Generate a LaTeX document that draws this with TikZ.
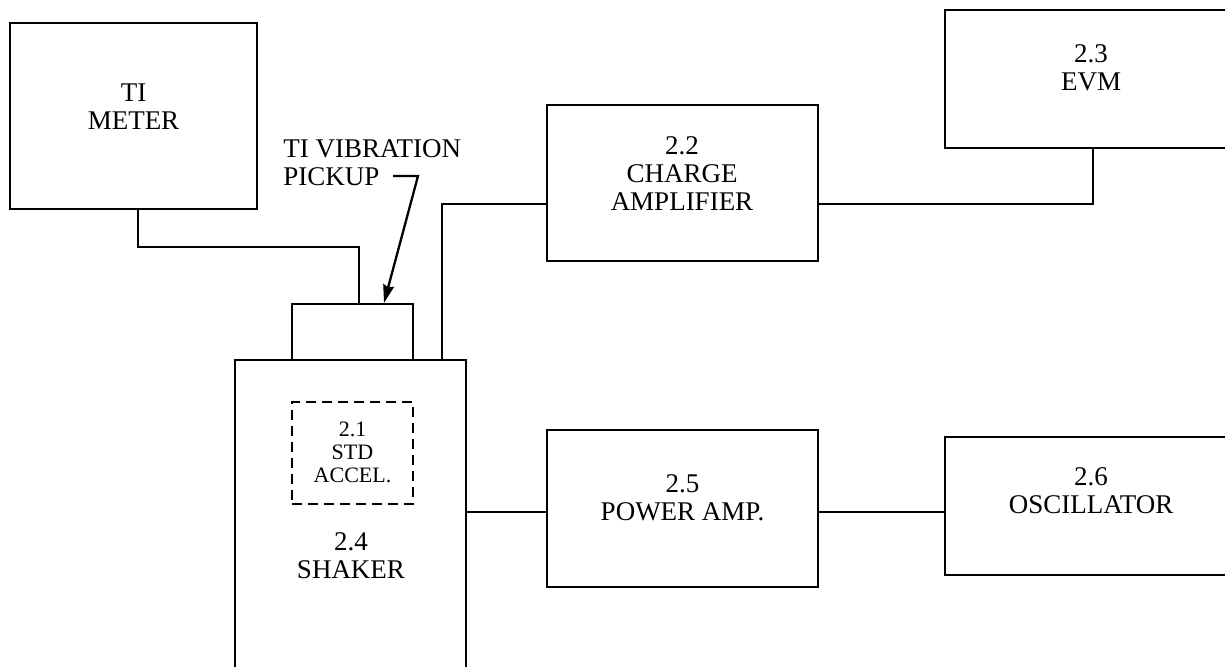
\documentclass[tikz,border=0pt]{standalone}
\usepackage{fontspec}
\setmainfont{Liberation Serif}
\usetikzlibrary{arrows.meta,positioning,calc}
\tikzset{
  tbBox/.style={draw=black, line width=1.15pt, inner sep=0pt},
  tbDash/.style={draw=black, line width=1.15pt, dash pattern=on 5pt off 3pt,
                 inner sep=0pt},
  tbText/.style={align=center, inner sep=0pt,
                 font=\fontsize{13.5}{14}\selectfont},
  tbSmall/.style={align=center, inner sep=0pt,
                  font=\fontsize{11}{11.5}\selectfont},
  tbWire/.style={draw=black, line width=1.15pt},
  tbPointer/.style={-{Stealth[length=9pt,width=5.5pt,inset=1pt]}, line width=1.15pt,
                    draw=black}
}
\begin{document}
\begin{tikzpicture}[x=0.5pt,y=-0.5pt]
  \useasboundingbox (0,0) rectangle (1225,667);
  % blocks
  \node[tbBox] (meter) at (133.5,116) [minimum width=123.5pt, minimum height=93pt] {};
  \node[tbText] (meterText) at (133.5,107) {TI\\METER};
  \node[tbBox] (pickup) at (352.5,332) [minimum width=60.5pt, minimum height=28pt] {};
  \node[tbBox] (shaker) at (350.5,530) [minimum width=115.5pt, minimum height=170pt] {};
  \node[tbText] (shakerText) at (351,556) {2.4\\SHAKER};
  \node[tbDash] (accel) at (352.5,453) [minimum width=60.5pt, minimum height=51pt] {};
  \node[tbSmall] (accelText) at (352.5,452) {2.1\\STD\\ACCEL.};
  \node[tbBox] (charge) at (682.5,183) [minimum width=135.5pt, minimum height=78pt] {};
  \node[tbText] (chargeText) at (682,174) {2.2\\CHARGE\\AMPLIFIER};
  \node[tbBox] (evm) at (1091,79) [minimum width=146pt, minimum height=69pt] {};
  \node[tbText] (evmText) at (1091,68) {2.3\\EVM};
  \node[tbBox] (power) at (682.5,508.5) [minimum width=135.5pt, minimum height=78.5pt] {};
  \node[tbText] (powerText) at (682.5,498) {2.5\\POWER AMP.};
  \node[tbBox] (osc) at (1090,506) [minimum width=145pt, minimum height=69pt] {};
  \node[tbText] (oscText) at (1091,491) {2.6\\OSCILLATOR};

  % pickup callout
  \node[tbText, anchor=north west, align=left] (pickupTag) at (283,139) {TI VIBRATION\\PICKUP};
  \coordinate (tagHook) at (393,176);
  \draw[tbPointer] (tagHook) -- ++(25,0) -- ([xshift=15.75pt]pickup.north);

  % wiring
  \coordinate (drive) at (0,512);
  \draw[tbWire] ([xshift=2.25pt]meter.south) |- ([xshift=3.25pt,yshift=28pt]pickup.north)
    -- ([xshift=3.25pt]pickup.north);
  \draw[tbWire] ([xshift=-12.5pt]shaker.north east) |- ([yshift=-10.5pt]charge.west);
  \draw[tbWire] ([yshift=-10.5pt]charge.east) -| ([xshift=1pt]evm.south);
  \draw[tbWire] (shaker.east |- drive) -- (power.west |- drive);
  \draw[tbWire] (power.east |- drive) -- (osc.west |- drive);
\end{tikzpicture}
\end{document}
